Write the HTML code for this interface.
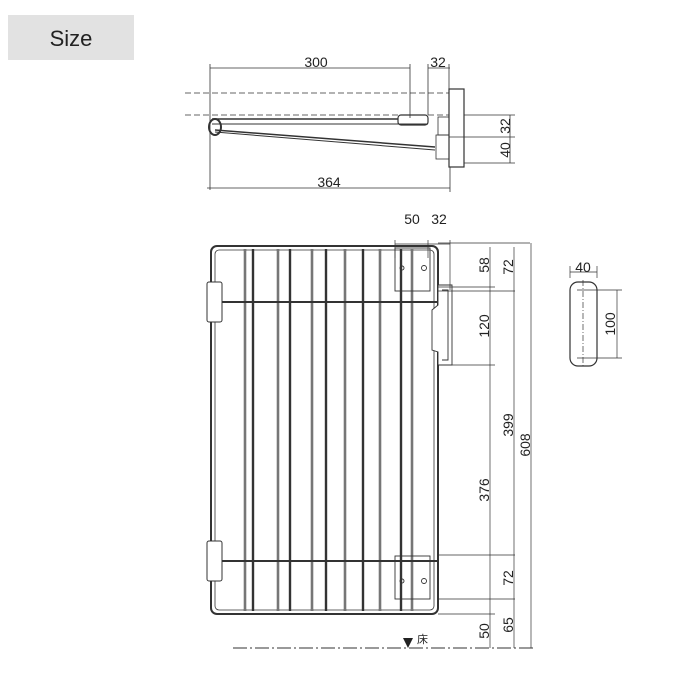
<!DOCTYPE html>
<html><head><style>
body{margin:0;background:#fff}
svg{display:block}
text{font-family:"Liberation Sans","Noto Sans CJK JP",sans-serif;fill:#222}
</style></head><body>
<svg width="700" height="700" viewBox="0 0 700 700" xmlns="http://www.w3.org/2000/svg">
<rect x="8" y="15" width="126" height="45" fill="#e2e2e2"/>
<text x="71" y="46" font-size="22" text-anchor="middle">Size</text>

<g stroke="#333" fill="none" stroke-width="0.8">
<line x1="210" y1="68" x2="410" y2="68"/>
<line x1="428" y1="68" x2="450" y2="68"/>
<line x1="210" y1="64" x2="210" y2="190"/>
<line x1="410" y1="64" x2="410" y2="118"/>
<line x1="428" y1="64" x2="428" y2="115"/>
<line x1="449" y1="64" x2="449" y2="90"/>
<line x1="185" y1="93" x2="449" y2="93" stroke-dasharray="6,3"/>
<line x1="185" y1="115" x2="449" y2="115" stroke-dasharray="6,3"/>
<rect x="449" y="89" width="15" height="78" stroke-width="1.2"/>
<rect x="398" y="115" width="30" height="10" rx="3" stroke-width="1.2"/>
<line x1="212" y1="119" x2="398" y2="119" stroke-width="1.5"/>
<line x1="212" y1="124" x2="428" y2="124" stroke-width="1"/>
<line x1="215" y1="130" x2="435" y2="147" stroke-width="1.5"/>
<line x1="215" y1="132" x2="435" y2="150" stroke-width="1"/>
<ellipse cx="215" cy="127" rx="6" ry="8" stroke-width="2"/>
<rect x="438" y="117" width="11" height="18"/>
<rect x="436" y="135" width="13" height="24"/>
<line x1="464" y1="115" x2="515" y2="115"/>
<line x1="449" y1="137" x2="515" y2="137"/>
<line x1="464" y1="163" x2="515" y2="163"/>
<line x1="510" y1="115" x2="510" y2="163"/>
<line x1="207" y1="188" x2="450" y2="188"/>
<line x1="450" y1="167" x2="450" y2="192"/>
</g>
<g font-size="14" text-anchor="middle">
<text x="316" y="67">300</text>
<text x="438" y="67">32</text>
<text x="329" y="187">364</text>
<text transform="translate(510,126) rotate(-90)">32</text>
<text transform="translate(510,150) rotate(-90)">40</text>
</g>

<g stroke="#333" fill="none">
<rect x="211" y="246" width="227" height="368" rx="6" stroke-width="2"/>
<rect x="215" y="250" width="219" height="360" rx="4" stroke-width="0.8"/>
<g stroke-width="2.4">
<line x1="245" y1="249" x2="245" y2="611"/><line x1="253" y1="249" x2="253" y2="611"/>
<line x1="278" y1="249" x2="278" y2="611"/><line x1="290" y1="249" x2="290" y2="611"/>
<line x1="312" y1="249" x2="312" y2="611"/><line x1="326" y1="249" x2="326" y2="611"/>
<line x1="345" y1="249" x2="345" y2="611"/><line x1="363" y1="249" x2="363" y2="611"/>
<line x1="380" y1="249" x2="380" y2="611"/><line x1="401" y1="249" x2="401" y2="611"/>
<line x1="412" y1="249" x2="412" y2="611"/>
</g>
<g stroke-width="0.8" stroke="#ddd">
<line x1="245" y1="249" x2="245" y2="611"/><line x1="278" y1="249" x2="278" y2="611"/>
<line x1="312" y1="249" x2="312" y2="611"/><line x1="345" y1="249" x2="345" y2="611"/>
<line x1="380" y1="249" x2="380" y2="611"/><line x1="412" y1="249" x2="412" y2="611"/>
</g>
<line x1="221" y1="302" x2="438" y2="302" stroke-width="2"/>
<line x1="221" y1="561" x2="438" y2="561" stroke-width="2"/>
<rect x="207" y="282" width="15" height="40" rx="2" fill="#fff" stroke-width="1"/>
<rect x="207" y="541" width="15" height="40" rx="2" fill="#fff" stroke-width="1"/>
<g stroke-width="0.9">
<rect x="395" y="248" width="35" height="43"/>
<rect x="395" y="556" width="35" height="43"/>
<path d="M438 285 H452 V365 H438 V352 L432 350 V310 L438 305 Z" fill="#fff"/>
<path d="M442 290 H448 V360 H442" />
<circle cx="424" cy="268" r="2.5"/><circle cx="402" cy="268" r="2"/>
<circle cx="424" cy="581" r="2.5"/><circle cx="402" cy="581" r="2"/>
</g>
<g stroke-width="0.7">
<line x1="395" y1="244" x2="450" y2="244"/>
<line x1="395" y1="240" x2="395" y2="258"/><line x1="428" y1="240" x2="428" y2="258"/><line x1="450" y1="240" x2="450" y2="290"/>
<line x1="438" y1="243" x2="530" y2="243"/>
<line x1="438" y1="287" x2="495" y2="287"/>
<line x1="438" y1="291" x2="515" y2="291"/>
<line x1="452" y1="365" x2="495" y2="365"/>
<line x1="438" y1="555" x2="515" y2="555"/>
<line x1="438" y1="599" x2="515" y2="599"/>
<line x1="438" y1="614" x2="495" y2="614"/>
<line x1="490" y1="247" x2="490" y2="648"/>
<line x1="514" y1="247" x2="514" y2="648"/>
<line x1="531" y1="243" x2="531" y2="648"/>
<line x1="233" y1="648" x2="535" y2="648" stroke-dasharray="14,3,2,3" stroke-width="1"/>
<rect x="570" y="282" width="27" height="84" rx="8" stroke-width="1.2"/>
<line x1="583" y1="280" x2="583" y2="368" stroke-dasharray="6,2,1,2"/>
<line x1="570" y1="278" x2="570" y2="266"/><line x1="597" y1="278" x2="597" y2="266"/>
<line x1="570" y1="272" x2="597" y2="272"/>
<line x1="577" y1="290" x2="622" y2="290"/><line x1="577" y1="358" x2="622" y2="358"/>
<line x1="617" y1="290" x2="617" y2="358"/>
</g>
</g>
<path d="M403 638 H413 L408 648 Z" fill="#222"/>
<text x="417" y="643" font-size="11">床</text>
<g font-size="14" text-anchor="middle">
<text x="412" y="224">50</text>
<text x="439" y="224">32</text>
<text x="583" y="272">40</text>
<text transform="translate(489,265) rotate(-90)">58</text>
<text transform="translate(513,267) rotate(-90)">72</text>
<text transform="translate(489,326) rotate(-90)">120</text>
<text transform="translate(513,425) rotate(-90)">399</text>
<text transform="translate(530,445) rotate(-90)">608</text>
<text transform="translate(489,490) rotate(-90)">376</text>
<text transform="translate(513,578) rotate(-90)">72</text>
<text transform="translate(489,631) rotate(-90)">50</text>
<text transform="translate(513,625) rotate(-90)">65</text>
<text transform="translate(615,324) rotate(-90)">100</text>
</g>
</svg>
</body></html>
